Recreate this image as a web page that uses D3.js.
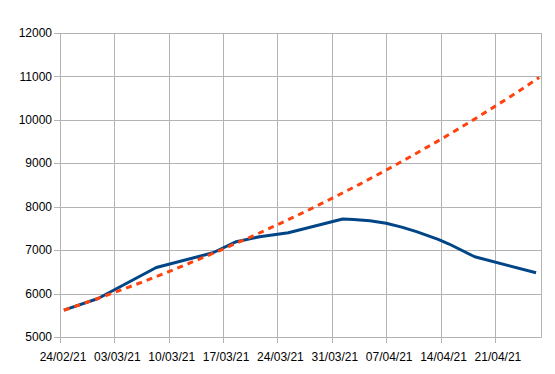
<!DOCTYPE html>
<html>
<head>
<meta charset="utf-8">
<script src="https://cdn.jsdelivr.net/npm/d3@7"></script>
<style>
  body { margin: 0; background: #fff; }
  text { font-family: "Liberation Sans", Arial, sans-serif; font-size: 12px; fill: #000; }
</style>
</head>
<body>
<div id="chart"></div>
<script>
// days after 24/02/21
var actualDays   = [0.5, 4.9, 12.4, 19.7, 22.7, 25.7, 29.4, 36.4, 37.8, 39.9, 42.0, 44.0, 45.9, 48.7, 50.1, 53.4, 61.3];
var actualValues = [5617, 5887, 6600, 6940, 7194, 7310, 7402, 7718, 7708, 7679, 7618, 7530, 7425, 7249, 7141, 6848, 6478];

var trendDays   = [0.5, 4, 7, 10.5, 14, 17.5, 21, 24.5, 28, 31.5, 35, 38.5, 42, 45.5, 49, 52.5, 56, 59, 61.7];
var trendValues = [5617, 5830, 6025, 6260, 6505, 6760, 7024, 7300, 7585, 7880, 8190, 8510, 8843, 9190, 9547, 9920, 10310, 10650, 10975];

var xTicks = ["2021-02-24", "2021-03-03", "2021-03-10", "2021-03-17", "2021-03-24",
              "2021-03-31", "2021-04-07", "2021-04-14", "2021-04-21"];
var yTicks = [5000, 6000, 7000, 8000, 9000, 10000, 11000, 12000];

var parseDate = d3.timeParse("%Y-%m-%d");
var start = parseDate("2021-02-24");
var end = d3.timeDay.offset(start, 62);
function dayToDate(d) { return new Date(start.getTime() + d * 86400000); }

var svg = d3.select("#chart").append("svg")
  .attr("width", 555)
  .attr("height", 374);

var x = d3.scaleTime().domain([start, end]).range([60, 541.5]);
var y = d3.scaleLinear().domain([5000, 12000]).range([337, 33]);

function crisp(v) { return Math.round(v) + 0.5; }

var grid = "#b3b3b3";

// horizontal grid + y ticks
svg.append("g").selectAll("line")
  .data(yTicks)
  .enter().append("line")
  .attr("x1", 54).attr("x2", 541.5)
  .attr("y1", d => crisp(y(d))).attr("y2", d => crisp(y(d)))
  .attr("stroke", grid);

// vertical grid + x ticks
svg.append("g").selectAll("line")
  .data(xTicks)
  .enter().append("line")
  .attr("x1", d => crisp(x(parseDate(d)))).attr("x2", d => crisp(x(parseDate(d))))
  .attr("y1", 33).attr("y2", 343)
  .attr("stroke", grid);

// right border
svg.append("line")
  .attr("x1", 541.5).attr("x2", 541.5)
  .attr("y1", 33).attr("y2", 337.5)
  .attr("stroke", grid);

// y labels
svg.append("g").selectAll("text")
  .data(yTicks)
  .enter().append("text")
  .attr("x", 52)
  .attr("y", d => y(d))
  .attr("dy", "0.35em")
  .attr("text-anchor", "end")
  .text(d => d);

// x labels
var fmt = d3.timeFormat("%d/%m/%y");
svg.append("g").selectAll("text")
  .data(xTicks)
  .enter().append("text")
  .attr("x", d => x(parseDate(d)) + 3)
  .attr("y", 361)
  .attr("text-anchor", "middle")
  .text(d => fmt(parseDate(d)));

var line = d3.line()
  .x(d => x(dayToDate(d[0])))
  .y(d => y(d[1]));

svg.append("path")
  .datum(d3.zip(actualDays, actualValues))
  .attr("fill", "none")
  .attr("stroke", "#004586")
  .attr("stroke-width", 3)
  .attr("stroke-linejoin", "round")
  .attr("d", line);

svg.append("path")
  .datum(d3.zip(trendDays, trendValues))
  .attr("fill", "none")
  .attr("stroke", "#ff420e")
  .attr("stroke-width", 3)
  .attr("stroke-dasharray", "6,5")
  .attr("d", line);
</script>
</body>
</html>
